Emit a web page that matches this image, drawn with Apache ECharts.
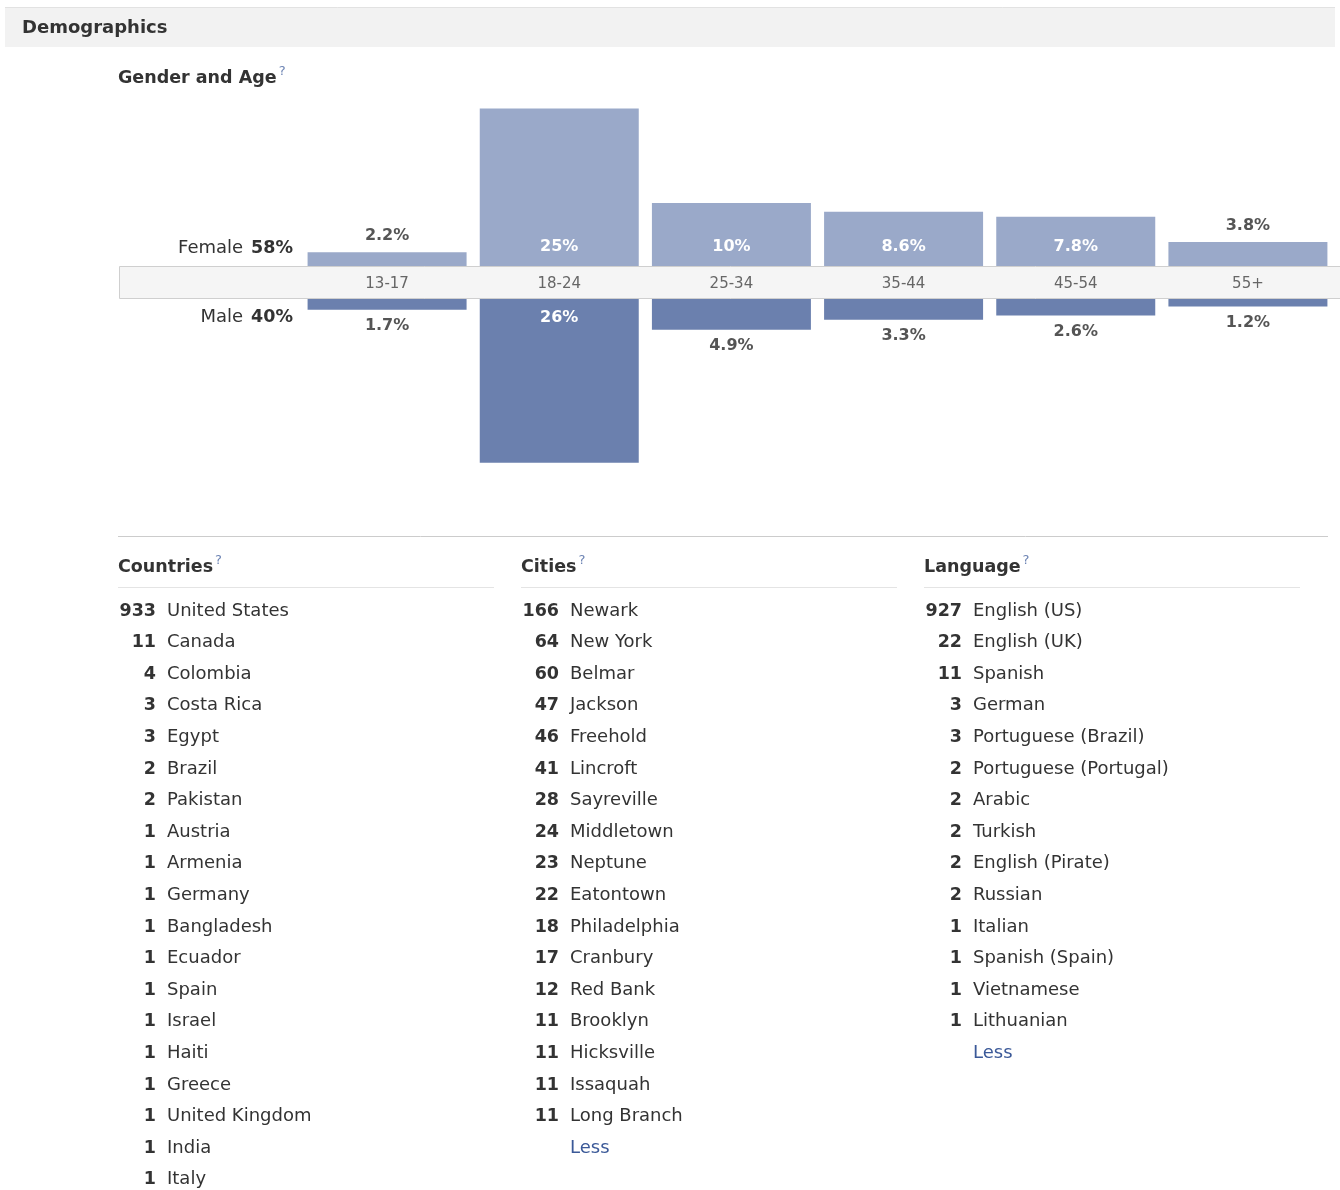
<!DOCTYPE html>
<html>
<head>
<meta charset="utf-8">
<script src="https://cdn.jsdelivr.net/npm/echarts@6/dist/echarts.min.js"></script>
<style>
html,body{margin:0;padding:0;background:#fff;}
#main{width:1340px;height:1190px;}
</style>
</head>
<body>
<div id="main"></div>
<script>
// ---- data ----
var ageGroups = ['13-17', '18-24', '25-34', '35-44', '45-54', '55+'];
var femalePct = [2.2, 25, 10, 8.6, 7.8, 3.8];
var malePct = [1.7, 26, 4.9, 3.3, 2.6, 1.2];
var femaleTotal = 58;
var maleTotal = 40;

var countryNames = ['United States', 'Canada', 'Colombia', 'Costa Rica', 'Egypt', 'Brazil', 'Pakistan', 'Austria', 'Armenia', 'Germany', 'Bangladesh', 'Ecuador', 'Spain', 'Israel', 'Haiti', 'Greece', 'United Kingdom', 'India', 'Italy'];
var countryCounts = [933, 11, 4, 3, 3, 2, 2, 1, 1, 1, 1, 1, 1, 1, 1, 1, 1, 1, 1];

var cityNames = ['Newark', 'New York', 'Belmar', 'Jackson', 'Freehold', 'Lincroft', 'Sayreville', 'Middletown', 'Neptune', 'Eatontown', 'Philadelphia', 'Cranbury', 'Red Bank', 'Brooklyn', 'Hicksville', 'Issaquah', 'Long Branch'];
var cityCounts = [166, 64, 60, 47, 46, 41, 28, 24, 23, 22, 18, 17, 12, 11, 11, 11, 11];

var languageNames = ['English (US)', 'English (UK)', 'Spanish', 'German', 'Portuguese (Brazil)', 'Portuguese (Portugal)', 'Arabic', 'Turkish', 'English (Pirate)', 'Russian', 'Italian', 'Spanish (Spain)', 'Vietnamese', 'Lithuanian'];
var languageCounts = [927, 22, 11, 3, 3, 2, 2, 2, 2, 2, 1, 1, 1, 1];

// ---- styling / layout ----
var FONT = '"DejaVu Sans", "Lucida Grande", Verdana, sans-serif';
var TXT = '#333333';
var FEMALE_COLOR = '#9aa9c9';
var MALE_COLOR = '#6b80ae';
var LINK = '#3b5998';
var QMARK = '#6d84b4';
var INSIDE_MIN = 6;

var chart = echarts.init(document.getElementById('main'), null, {renderer: 'canvas'});

var measureCtx = document.createElement('canvas').getContext('2d');
function textWidth(text, font) { measureCtx.font = font; return measureCtx.measureText(text).width; }

function txt(x, y, text, opt) {
  opt = opt || {};
  return {
    type: 'text', x: x, y: y, z: 10,
    style: {
      text: text,
      font: (opt.weight || 'normal') + ' ' + (opt.size || 18) + 'px ' + FONT,
      fill: opt.color || TXT,
      align: opt.align || 'left', textAlign: opt.align || 'left',
      verticalAlign: 'middle', textVerticalAlign: 'middle'
    }
  };
}

function heading(x, y, label) {
  var font = 'bold 17.5px ' + FONT;
  var w = textWidth(label, font);
  graphics.push({
    type: 'text', x: x, y: y, z: 10,
    style: {text: label, font: font, fill: TXT, align: 'left', textAlign: 'left', verticalAlign: 'middle', textVerticalAlign: 'middle'}
  });
  graphics.push({
    type: 'text', x: x + w + 2, y: y - 6, z: 10,
    style: {text: '?', font: 'normal 13px ' + FONT, fill: QMARK, align: 'left', textAlign: 'left', verticalAlign: 'middle', textVerticalAlign: 'middle'}
  });
}

var graphics = [];
// header bar
graphics.push({type: 'rect', z: 0, shape: {x: 5, y: 7, width: 1330, height: 40}, style: {fill: '#f2f2f2'}});
graphics.push({type: 'line', z: 1, shape: {x1: 5, y1: 7.5, x2: 1335, y2: 7.5}, style: {stroke: '#e2e2e2', lineWidth: 1}});
graphics.push(txt(22, 28, 'Demographics', {weight: 'bold', size: 18}));

// gender and age heading
heading(118, 78, 'Gender and Age');

// band behind category labels
graphics.push({type: 'rect', z: 0, shape: {x: 119.5, y: 266.5, width: 1230, height: 32}, style: {fill: '#f5f5f5', stroke: '#cfcfcf', lineWidth: 1}});

// gender totals
function genderText(y, label, total) {
  var fn = 'normal 18px ' + FONT, fb = 'bold 17.5px ' + FONT;
  var wb = textWidth(total + '%', fb);
  graphics.push({type: 'text', x: 293, y: y, z: 10, style: {text: total + '%', font: fb, fill: TXT, align: 'right', textAlign: 'right', verticalAlign: 'middle', textVerticalAlign: 'middle'}});
  graphics.push({type: 'text', x: 293 - wb - 8, y: y, z: 10, style: {text: label, font: fn, fill: TXT, align: 'right', textAlign: 'right', verticalAlign: 'middle', textVerticalAlign: 'middle'}});
}
genderText(248, 'Female', femaleTotal);
genderText(317, 'Male', maleTotal);

// separator
graphics.push({type: 'line', z: 1, shape: {x1: 118, y1: 536.5, x2: 1328, y2: 536.5}, style: {stroke: '#cccccc', lineWidth: 1}});

// lists
var ROW0 = 611, STEP = 31.6;
function addList(x0, title, names, counts) {
  heading(x0, 567, title);
  graphics.push({type: 'line', z: 1, shape: {x1: x0, y1: 587.5, x2: x0 + 376, y2: 587.5}, style: {stroke: '#e4e4e4', lineWidth: 1}});
  var numX = x0 + 38, nameX = x0 + 49;
  for (var i = 0; i < names.length; i++) {
    var y = ROW0 + i * STEP;
    graphics.push(txt(numX, y, String(counts[i]), {weight: 'bold', size: 17.5, align: 'right'}));
    graphics.push(txt(nameX, y, names[i], {size: 18}));
  }
  return nameX;
}
addList(118, 'Countries', countryNames, countryCounts);
var cx = addList(521, 'Cities', cityNames, cityCounts);
graphics.push(txt(cx, ROW0 + cityNames.length * STEP, 'Less', {size: 18, color: LINK}));
var lx = addList(924, 'Language', languageNames, languageCounts);
graphics.push(txt(lx, ROW0 + languageNames.length * STEP, 'Less', {size: 18, color: LINK}));

function barData(vals, inside, outside) {
  return vals.map(function (v) {
    var big = v >= INSIDE_MIN;
    return {
      value: v,
      label: big
        ? {position: inside, distance: 11, color: '#ffffff', fontWeight: 'bold'}
        : {position: outside, distance: 8, color: '#555555', fontWeight: 'bold'}
    };
  });
}

var SCALE_MAX = 30;
var option = {
  animation: false,
  backgroundColor: '#ffffff',
  grid: [
    {left: 301, width: 1033, top: 77, height: 189},
    {left: 301, width: 1033, top: 299, height: 189}
  ],
  xAxis: [
    {
      type: 'category', gridIndex: 0, data: ageGroups,
      axisLine: {show: false}, axisTick: {show: false},
      axisLabel: {margin: 11, color: '#666666', fontSize: 15, fontFamily: FONT, verticalAlign: 'top'}
    },
    {type: 'category', gridIndex: 1, data: ageGroups, show: false}
  ],
  yAxis: [
    {type: 'value', gridIndex: 0, min: 0, max: SCALE_MAX, show: false, splitLine: {show: false}},
    {type: 'value', gridIndex: 1, min: 0, max: SCALE_MAX, inverse: true, show: false, splitLine: {show: false}}
  ],
  series: [
    {
      type: 'bar', name: 'Female', xAxisIndex: 0, yAxisIndex: 0, barWidth: 159,
      itemStyle: {color: FEMALE_COLOR},
      label: {show: true, fontSize: 16, fontFamily: FONT, formatter: function (p) { return p.value + '%'; }},
      data: barData(femalePct, 'insideBottom', 'top')
    },
    {
      type: 'bar', name: 'Male', xAxisIndex: 1, yAxisIndex: 1, barWidth: 159,
      itemStyle: {color: MALE_COLOR},
      label: {show: true, fontSize: 16, fontFamily: FONT, formatter: function (p) { return p.value + '%'; }},
      data: barData(malePct, 'insideTop', 'bottom')
    }
  ],
  graphic: graphics
};
chart.setOption(option);
</script>
</body>
</html>
